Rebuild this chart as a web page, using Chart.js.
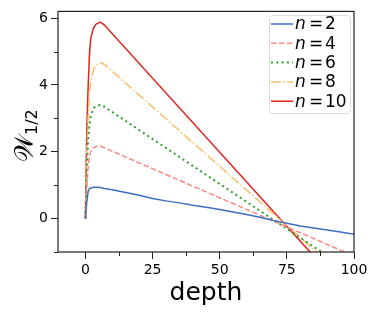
<!DOCTYPE html>
<html>
<head>
<meta charset="utf-8">
<script src="https://cdn.jsdelivr.net/npm/chart.js@4"></script>
<style>
    html, body { margin: 0; padding: 0; background: #fff; }
    #wrap { width: 379px; height: 316px; }
</style>
</head>
<body>
<div id="wrap"><canvas id="chart"></canvas></div>
<script>
// values: depth -> W_1/2 for each n
var depthN2 = [0, 0.5, 1, 1.5, 3, 5, 7, 10, 15, 20, 25, 30, 35, 40, 45, 50, 55, 60, 65, 70, 75, 80, 85, 90, 95, 100];
var valuesN2 = [0, 0.5, 0.8, 0.9, 0.94, 0.94, 0.9, 0.86, 0.78, 0.70, 0.60, 0.53, 0.47, 0.40, 0.34, 0.27, 0.20, 0.12, 0.04, -0.06, -0.14, -0.22, -0.28, -0.34, -0.40, -0.47];

var depthPeak = [0, 0.5, 1, 1.5, 2, 3, 4, 5.5, 7, 100];
var valuesN4 = [0, 0.9, 1.5, 1.85, 2.0, 2.12, 2.16, 2.17, 2.12, -1.12];
var valuesN6 = [0, 1.5, 2.3, 2.8, 3.05, 3.3, 3.37, 3.40, 3.35, -1.65];
var valuesN8 = [0, 2.0, 3.0, 3.7, 4.1, 4.45, 4.6, 4.67, 4.62, -1.99];
var valuesN10 = [0, 2.6, 3.9, 4.9, 5.4, 5.7, 5.82, 5.88, 5.8, -2.45];

var seriesNames = ['2', '4', '6', '8', '10'];
var seriesColors = ['#3f6fc0', '#f98a86', '#2fa12c', '#fdbd6c', '#e3231f'];
var seriesDash = [[], [5.5, 2.4], [2, 3.3], [9.6, 2.4, 1.5, 2.4], []];
var seriesWidth = [1.5, 1.5, 2, 1.5, 1.5];

var xTicks = [0, 25, 50, 75, 100];
var xMinor = [12.5, 37.5, 62.5, 87.5];
var yTicks = [0, 2, 4, 6];
var yMinor = [-1, 1, 3, 5];

function toPoints(xs, ys) {
    return xs.map((x, i) => ({ x: x, y: ys[i] }));
}

var allSeries = [
    toPoints(depthN2, valuesN2),
    toPoints(depthPeak, valuesN4),
    toPoints(depthPeak, valuesN6),
    toPoints(depthPeak, valuesN8),
    toPoints(depthPeak, valuesN10)
];

var datasets = allSeries.map((pts, i) => ({
    label: 'n = ' + seriesNames[i],
    data: pts,
    borderColor: seriesColors[i],
    borderDash: seriesDash[i],
    borderWidth: seriesWidth[i],
    pointRadius: 0,
    tension: 0,
    fill: false
}));

var FONT = 'DejaVu Sans, sans-serif';

var decorations = {
    id: 'decorations',
    afterDraw(chart) {
        var ctx = chart.ctx;
        var area = chart.chartArea;
        var xs = chart.scales.x, ys = chart.scales.y;
        ctx.save();

        // frame
        ctx.strokeStyle = '#222';
        ctx.lineWidth = 1.2;
        ctx.strokeRect(area.left, area.top, area.right - area.left, area.bottom - area.top);

        // minor ticks
        ctx.lineWidth = 1;
        ctx.beginPath();
        xMinor.forEach(v => {
            var px = Math.round(xs.getPixelForValue(v)) + 0.5;
            ctx.moveTo(px, area.bottom);
            ctx.lineTo(px, area.bottom + 4);
        });
        yMinor.forEach(v => {
            var py = Math.round(ys.getPixelForValue(v)) + 0.5;
            ctx.moveTo(area.left, py);
            ctx.lineTo(area.left - 4, py);
        });
        ctx.stroke();

        // legend
        var lx = 269, ly = 15, lw = 81, lh = 98;
        ctx.fillStyle = 'rgba(255,255,255,0.85)';
        ctx.strokeStyle = '#dcdcdc';
        ctx.lineWidth = 1;
        ctx.beginPath();
        ctx.roundRect(lx + 0.5, ly + 0.5, lw, lh, 3);
        ctx.fill();
        ctx.stroke();

        seriesNames.forEach((name, i) => {
            var y = 24 + i * 19.3;
            ctx.strokeStyle = seriesColors[i];
            ctx.lineWidth = seriesWidth[i];
            ctx.setLineDash(seriesDash[i]);
            ctx.beginPath();
            ctx.moveTo(271, y);
            ctx.lineTo(293, y);
            ctx.stroke();
            ctx.setLineDash([]);

            ctx.fillStyle = '#000';
            ctx.textBaseline = 'middle';
            ctx.textAlign = 'left';
            ctx.font = 'italic 17px ' + FONT;
            ctx.fillText('n', 295, y + 1);
            ctx.font = '17px ' + FONT;
            ctx.fillText('=', 309, y + 1);
            ctx.fillText(name, 325, y + 1);
        });

        // x title
        ctx.fillStyle = '#000';
        ctx.font = '25px ' + FONT;
        ctx.textAlign = 'center';
        ctx.textBaseline = 'alphabetic';
        ctx.fillText('depth', 206, 300);

        // y title, rotated
        ctx.translate(33, 162);
        ctx.rotate(-Math.PI / 2);
        ctx.textAlign = 'left';
        ctx.font = '26px ' + FONT;
        ctx.fillText('𝒲', 0, 0);
        var w = ctx.measureText('𝒲').width;
        ctx.font = '16px ' + FONT;
        ctx.fillText('1/2', w, 4);

        ctx.restore();
    }
};

new Chart(document.getElementById('chart'), {
    type: 'line',
    data: { datasets: datasets },
    options: {
        responsive: true,
        maintainAspectRatio: false,
        animation: false,
        events: [],
        layout: { padding: { top: 10, right: 25, left: 0, bottom: 0 } },
        plugins: { legend: { display: false }, tooltip: { enabled: false } },
        scales: {
            x: {
                type: 'linear',
                min: -10.2,
                max: 100,
                afterBuildTicks: s => { s.ticks = xTicks.map(v => ({ value: v })); },
                afterFit: s => { s.height = 64; },
                ticks: { color: '#000', font: { family: FONT, size: 14 }, padding: 3, maxRotation: 0 },
                grid: { drawOnChartArea: false, drawTicks: true, tickLength: 7, color: '#222', lineWidth: 1 },
                border: { display: false }
            },
            y: {
                type: 'linear',
                min: -1,
                max: 6.2,
                afterBuildTicks: s => { s.ticks = yTicks.map(v => ({ value: v })); },
                afterFit: s => { s.width = 58; },
                ticks: { color: '#000', font: { family: FONT, size: 14 }, padding: 3 },
                grid: { drawOnChartArea: false, drawTicks: true, tickLength: 7, color: '#222', lineWidth: 1 },
                border: { display: false }
            }
        }
    },
    plugins: [decorations]
});
</script>
</body>
</html>
